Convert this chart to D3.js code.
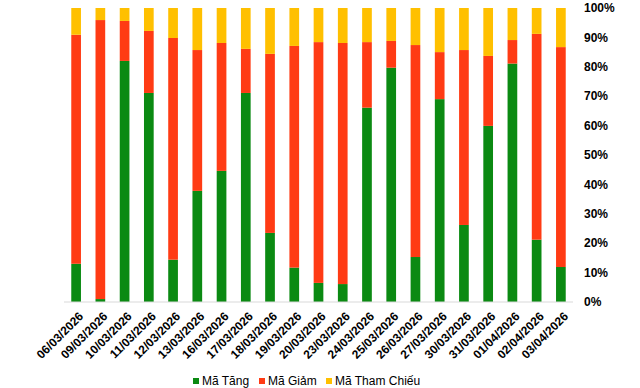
<!DOCTYPE html>
<html>
<head>
<meta charset="utf-8">
<script src="https://cdn.jsdelivr.net/npm/d3@7"></script>
<style>
  body { margin: 0; background: #fff; }
  .chart { width: 640px; height: 388px; }
  text { font-family: "Liberation Sans", Arial, sans-serif; }
</style>
</head>
<body>
<div class="chart"></div>
<script>
// dates on the x axis
const dates = ['06/03/2026','09/03/2026','10/03/2026','11/03/2026','12/03/2026','13/03/2026',
  '16/03/2026','17/03/2026','18/03/2026','19/03/2026','20/03/2026','23/03/2026','24/03/2026',
  '25/03/2026','26/03/2026','27/03/2026','30/03/2026','31/03/2026','01/04/2026','02/04/2026','03/04/2026'];

// share of codes, in percent
const tang = [13.0, 1.0, 82.0, 71.1, 14.4, 37.8, 44.6, 71.1, 23.5, 11.7, 6.5, 6.1, 66.1, 79.7, 15.3, 69.0, 26.2, 59.9, 81.1, 21.2, 11.9];
const giam = [77.9, 94.9, 13.6, 21.1, 75.4, 47.9, 43.5, 15.0, 60.9, 75.4, 81.9, 82.0, 22.3, 9.1, 72.1, 16.0, 59.5, 23.8, 8.0, 70.0, 74.8];
const thamChieu = [9.1, 4.1, 4.4, 7.8, 10.2, 14.3, 11.9, 13.9, 15.6, 12.9, 11.6, 11.9, 11.6, 11.2, 12.6, 15.0, 14.3, 16.3, 10.9, 8.8, 13.3];

const seriesNames = ['Mã Tăng', 'Mã Giảm', 'Mã Tham Chiếu'];
const colors = ['#0b8a12', '#ff3b14', '#ffc000'];
const yTicks = [0, 10, 20, 30, 40, 50, 60, 70, 80, 90, 100];

const width = 640, height = 388;
const svg = d3.select('.chart').append('svg')
  .attr('width', width)
  .attr('height', height);

const rows = dates.map((d, i) => ({date: d, tang: tang[i], giam: giam[i], tham: thamChieu[i]}));
const stack = d3.stack().keys(['tang', 'giam', 'tham']);
const layers = stack(rows);

const x = d3.scaleBand().domain(dates).range([64, 573]).paddingInner(0.6).paddingOuter(0.3);
const y = d3.scaleLinear().domain([0, 100]).range([302, 8]);

// bars
svg.selectAll('g.layer')
  .data(layers)
  .join('g')
  .attr('class', 'layer')
  .attr('fill', (d, i) => colors[i])
  .selectAll('rect')
  .data(d => d)
  .join('rect')
  .attr('x', d => x(d.data.date))
  .attr('width', x.bandwidth())
  .attr('y', d => y(d[1]))
  .attr('height', d => y(d[0]) - y(d[1]));

// x axis line
svg.append('line')
  .attr('x1', 64).attr('x2', 573)
  .attr('y1', y(0)).attr('y2', y(0))
  .style('stroke', '#d9d9d9')
  .style('stroke-width', '1px');

// right axis labels
svg.append('g').selectAll('text')
  .data(yTicks)
  .join('text')
  .attr('x', 584)
  .attr('y', d => y(d))
  .attr('dy', '0.35em')
  .style('font-size', '12px')
  .style('font-weight', 'bold')
  .text(d => d + '%');

// date labels
svg.append('g').selectAll('text')
  .data(dates)
  .join('text')
  .attr('transform', d => `translate(${x(d) + x.bandwidth() / 2 + 5},${314}) rotate(-45)`)
  .attr('text-anchor', 'end')
  .attr('dy', '0.35em')
  .style('font-size', '12px')
  .style('font-weight', 'bold')
  .text(d => d);

// legend
const legendX = [193, 259, 326];
const legend = svg.append('g').selectAll('g')
  .data(seriesNames)
  .join('g')
  .attr('transform', (d, i) => `translate(${legendX[i]},381)`);
legend.append('rect')
  .attr('x', 0).attr('y', -3)
  .attr('width', 6).attr('height', 6)
  .attr('fill', (d, i) => colors[i]);
legend.append('text')
  .attr('x', 9)
  .attr('dy', '0.35em')
  .style('font-size', '12px')
  .text(d => d);
</script>
</body>
</html>
